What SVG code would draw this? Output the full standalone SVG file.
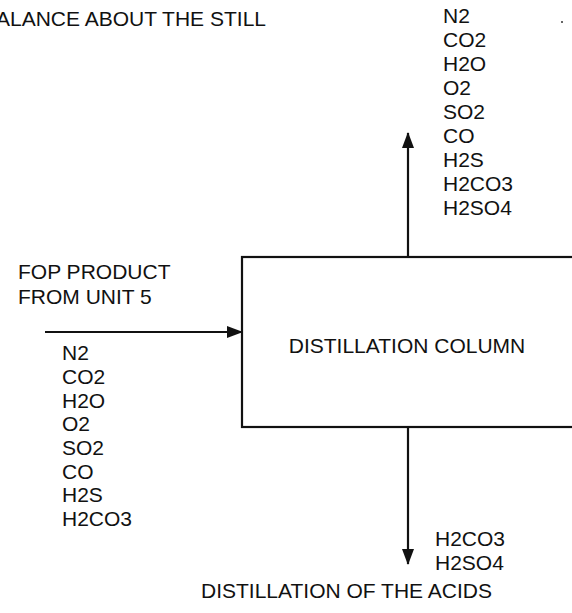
<svg xmlns="http://www.w3.org/2000/svg" width="572" height="613" viewBox="0 0 572 613">
<style>
text{font-family:"Liberation Sans",Arial,sans-serif;font-size:21px;fill:#111}
.ln{stroke:#111;stroke-width:2.2;fill:none}
</style>
<defs>
<marker id="ah" viewBox="0 0 16 12" refX="15" refY="6" markerWidth="16" markerHeight="12" markerUnits="userSpaceOnUse" orient="auto">
<path d="M0,0 L16,6 L0,12 Z" fill="#111"/>
</marker>
</defs>
<rect width="572" height="613" fill="#fff"/>
<text x="-4" y="26">ALANCE ABOUT THE STILL</text>
<circle cx="562" cy="22" r="1" fill="#333"/>
<g id="column">
<rect class="ln" x="242" y="257" width="340" height="170"/>
<text x="407" y="353" text-anchor="middle">DISTILLATION COLUMN</text>
</g>
<g id="feed">
<text x="18" y="279">FOP PRODUCT</text>
<text x="18" y="304">FROM UNIT 5</text>
<text x="62" y="360">N2</text>
<text x="62" y="384">CO2</text>
<text x="62" y="408">H2O</text>
<text x="62" y="431">O2</text>
<text x="62" y="455">SO2</text>
<text x="62" y="479">CO</text>
<text x="62" y="502">H2S</text>
<text x="62" y="526">H2CO3</text>
</g>
<g id="overhead">
<text x="443" y="23">N2</text>
<text x="443" y="47">CO2</text>
<text x="443" y="71">H2O</text>
<text x="443" y="95">O2</text>
<text x="443" y="119">SO2</text>
<text x="443" y="143">CO</text>
<text x="443" y="167">H2S</text>
<text x="443" y="191">H2CO3</text>
<text x="443" y="215">H2SO4</text>
</g>
<g id="bottoms">
<text x="435" y="546">H2CO3</text>
<text x="435" y="570">H2SO4</text>
<text x="201" y="598">DISTILLATION OF THE ACIDS</text>
</g>
<g id="connectors">
<line class="ln" x1="45" y1="332" x2="242" y2="332" marker-end="url(#ah)"/>
<line class="ln" x1="408" y1="257" x2="408" y2="133" marker-end="url(#ah)"/>
<line class="ln" x1="408" y1="427" x2="408" y2="564" marker-end="url(#ah)"/>
</g>
</svg>
